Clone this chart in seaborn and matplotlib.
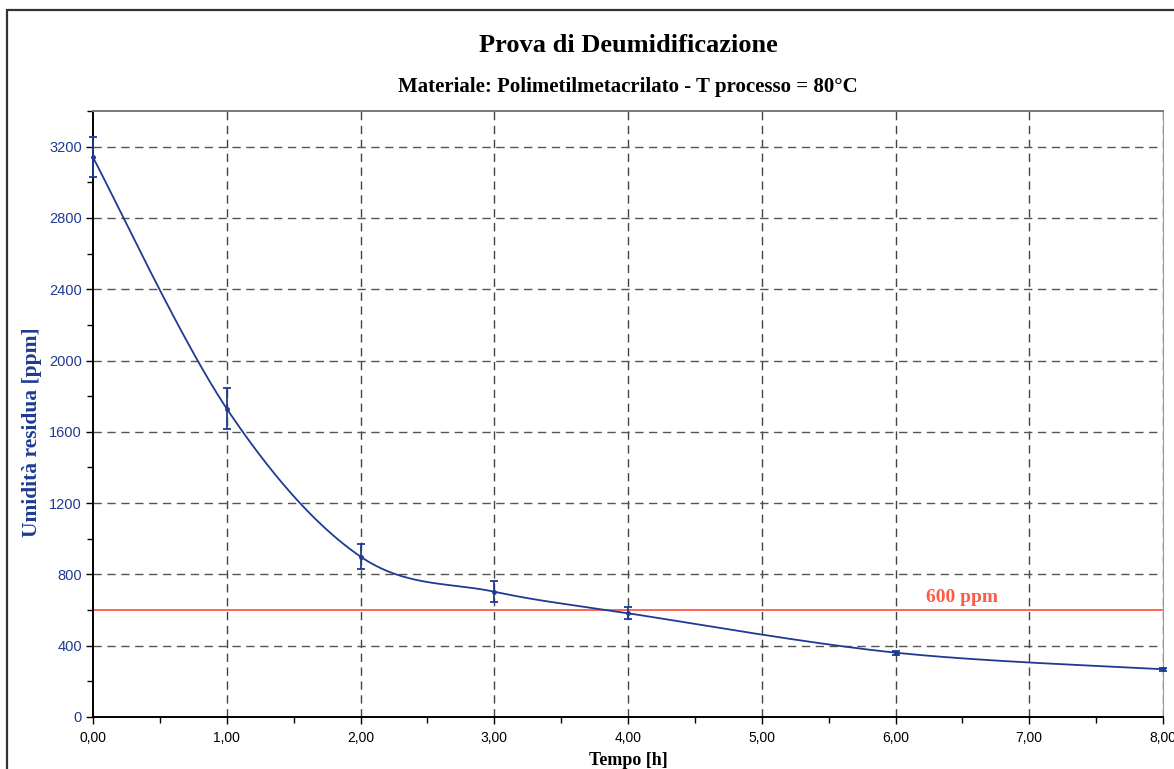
import numpy as np
import matplotlib
matplotlib.use("Agg")
import matplotlib.pyplot as plt
from matplotlib.patches import Rectangle
from matplotlib.ticker import MultipleLocator, FuncFormatter
import seaborn as sns
import pandas as pd

# Measured residual moisture over drying time
tempo_h = [0, 1, 2, 3, 4, 6, 8]
umidita_ppm = [3140, 1730, 900, 703, 582, 361, 268]
errore_ppm = [112, 115, 70, 59, 34, 12, 9]
soglia_ppm = 600

x_ticks = [0, 1, 2, 3, 4, 5, 6, 7, 8]
y_ticks = [0, 400, 800, 1200, 1600, 2000, 2400, 2800, 3200]

BLUE = "#1f3a93"
RED = "#ff5a45"
SERIF = "Liberation Serif"
SANS = "Liberation Sans"


def smooth_curve(xs, ys, n=60):
    """Spreadsheet-style smoothed line: cubic Bezier segments (Catmull-Rom tangents)."""
    pts = np.column_stack([xs, ys]).astype(float)
    ext = np.vstack([pts[0], pts, pts[-1]])
    out = []
    t = np.linspace(0, 1, n)[:, None]
    for i in range(len(pts) - 1):
        p0, p1 = ext[i + 1], ext[i + 2]
        c1 = p0 + (ext[i + 2] - ext[i]) / 6.0
        c2 = p1 - (ext[i + 3] - ext[i + 1]) / 6.0
        seg = ((1 - t) ** 3) * p0 + 3 * ((1 - t) ** 2) * t * c1 + 3 * (1 - t) * t ** 2 * c2 + t ** 3 * p1
        out.append(seg if i == 0 else seg[1:])
    seg = np.vstack(out)
    return seg[:, 0], seg[:, 1]


sns.set_theme(style="white")
plt.rcParams["font.family"] = [SANS, "DejaVu Sans"]

W, H = 1174, 769
fig = plt.figure(figsize=(W / 100, H / 100), dpi=100)
ax = fig.add_axes([93 / W, 1 - 717 / H, (1163 - 93) / W, (717 - 111) / H])

# Outer chart frame
fig.add_artist(Rectangle((7 / W, -0.2), 1.5, (1 - 10 / H) + 0.2, transform=fig.transFigure,
                         fill=False, edgecolor="#333333", linewidth=1.6))

# Grid
for xv in x_ticks[1:]:
    ax.axvline(xv, color="#444444", linewidth=1.0, dashes=(6, 4), zorder=1)
for yv in y_ticks[1:]:
    ax.axhline(yv, color="#555555", linewidth=1.0, dashes=(6, 4), zorder=1)

# Threshold line
ax.axhline(soglia_ppm, color=RED, linewidth=1.3, zorder=2)
ax.text(6.5, soglia_ppm + 22, f"{soglia_ppm} ppm", color=RED, fontsize=14,
        fontweight="bold", family=SERIF, ha="center", va="bottom", zorder=4)

# Smoothed drying curve
sx, sy = smooth_curve(tempo_h, umidita_ppm)
curve = pd.DataFrame({"Tempo": sx, "Umidita": sy})
sns.lineplot(data=curve, x="Tempo", y="Umidita", ax=ax, color=BLUE, linewidth=1.3,
             sort=False, estimator=None, zorder=3)

# Measured points with error bars
ax.errorbar(tempo_h, umidita_ppm, yerr=errore_ppm, fmt="o", markersize=2.5, color=BLUE,
            ecolor=BLUE, elinewidth=1.3, capsize=3, capthick=1.3, zorder=4, clip_on=False)

ax.set_xlim(0, 8)
ax.set_ylim(0, 3400)
ax.xaxis.set_major_locator(MultipleLocator(1))
ax.xaxis.set_minor_locator(MultipleLocator(0.5))
ax.yaxis.set_major_locator(MultipleLocator(400))
ax.yaxis.set_minor_locator(MultipleLocator(200))
ax.xaxis.set_major_formatter(FuncFormatter(lambda v, p: f"{v:.2f}".replace(".", ",")))
ax.yaxis.set_major_formatter(FuncFormatter(lambda v, p: f"{v:.0f}" if v <= 3200 else ""))

ax.tick_params(axis="x", which="major", direction="out", length=5, width=1, color="black",
               labelsize=10, labelcolor="black", pad=5, bottom=True)
ax.tick_params(axis="x", which="minor", direction="out", length=4, width=1, color="black", bottom=True)
ax.tick_params(axis="y", which="major", direction="out", length=5, width=1, color="black",
               labelsize=10.5, labelcolor=BLUE, pad=3, left=True)
ax.tick_params(axis="y", which="minor", direction="out", length=4, width=1, color="black", left=True)

for side in ("left", "bottom"):
    ax.spines[side].set_color("black")
    ax.spines[side].set_linewidth(1.4)
ax.spines["top"].set_color("#777777")
ax.spines["top"].set_linewidth(1.4)
ax.spines["right"].set_color("#999999")
ax.spines["right"].set_linewidth(0.8)

ax.set_xlabel("Tempo [h]", family=SERIF, fontweight="bold", fontsize=13, color="black")
ax.xaxis.set_label_coords(0.5, -0.058)
ax.set_ylabel("Umidità residua [ppm]", family=SERIF, fontweight="bold", fontsize=15.5, color=BLUE)
ax.yaxis.set_label_coords(-0.048, 0.47)

cx = (93 + 1163) / 2 / W
fig.text(cx, 1 - 45 / H, "Prova di Deumidificazione", family=SERIF, fontweight="bold",
         fontsize=19, ha="center", va="center", color="black")
fig.text(cx, 1 - 87 / H, "Materiale: Polimetilmetacrilato - T processo = 80°C", family=SERIF,
         fontweight="bold", fontsize=15, ha="center", va="center", color="black")

fig.savefig("out.png", dpi=100)
